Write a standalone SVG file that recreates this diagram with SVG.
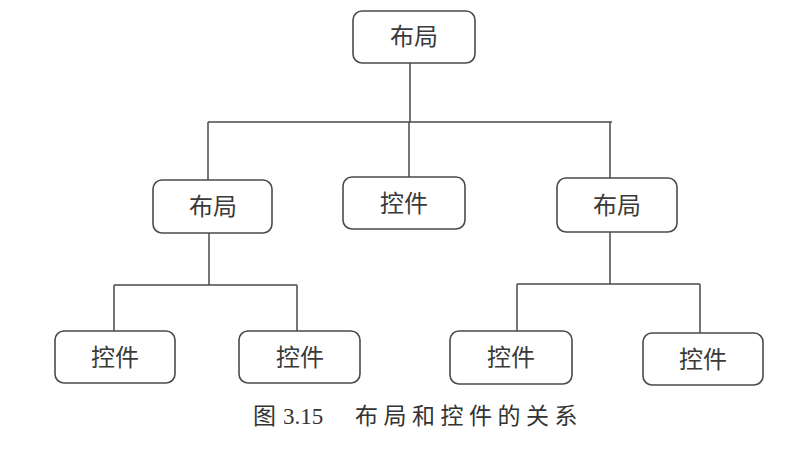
<svg xmlns="http://www.w3.org/2000/svg" width="811" height="456" viewBox="0 0 811 456">
<style>
.box{fill:#fff;stroke:#4a4a4a;stroke-width:1.6}
.lbl{font-family:"Noto Sans CJK SC","Noto Sans",sans-serif;font-size:24px;fill:#3a3a3a;text-anchor:middle}
.con{fill:none;stroke:#4a4a4a;stroke-width:1.5}
.cap{font-size:23px;fill:#333}
</style>
<rect width="811" height="456" fill="#fff"/>
<g id="connectors">
<path class="con" d="M410 63V122M208 122H612M208 122V180M409 122V177M610 122V178"/>
<path class="con" d="M209 233V285M114 285H297M114 285V331M297 285V331"/>
<path class="con" d="M610 232V284M517 284H700M517 284V331M700 284V333"/>
</g>
<g id="root"><rect class="box" x="353" y="11" width="122" height="52" rx="9"/><text class="lbl" x="414" y="45">布局</text></g>
<g id="layout-left"><rect class="box" x="153" y="180" width="119" height="53" rx="9"/><text class="lbl" x="213" y="215">布局</text></g>
<g id="widget-mid"><rect class="box" x="343" y="177" width="122" height="52" rx="9"/><text class="lbl" x="404" y="212">控件</text></g>
<g id="layout-right"><rect class="box" x="557" y="178" width="120" height="54" rx="9"/><text class="lbl" x="617" y="214">布局</text></g>
<g id="widget-1"><rect class="box" x="55" y="331" width="120" height="52" rx="9"/><text class="lbl" x="115" y="366">控件</text></g>
<g id="widget-2"><rect class="box" x="239" y="331" width="121" height="52" rx="9"/><text class="lbl" x="300" y="366">控件</text></g>
<g id="widget-3"><rect class="box" x="450" y="331" width="122" height="53" rx="9"/><text class="lbl" x="511" y="366">控件</text></g>
<g id="widget-4"><rect class="box" x="643" y="333" width="120" height="52" rx="9"/><text class="lbl" x="703" y="368">控件</text></g>
<g id="caption">
<text class="cap" x="253" y="424" font-family="'Noto Sans CJK SC',sans-serif">图</text>
<text class="cap" x="283" y="424" font-family="'Liberation Serif',serif">3.15</text>
<text class="cap" x="355" y="424" letter-spacing="5.5" font-family="'Noto Sans CJK SC',sans-serif">布局和控件的关系</text>
</g>
</svg>
